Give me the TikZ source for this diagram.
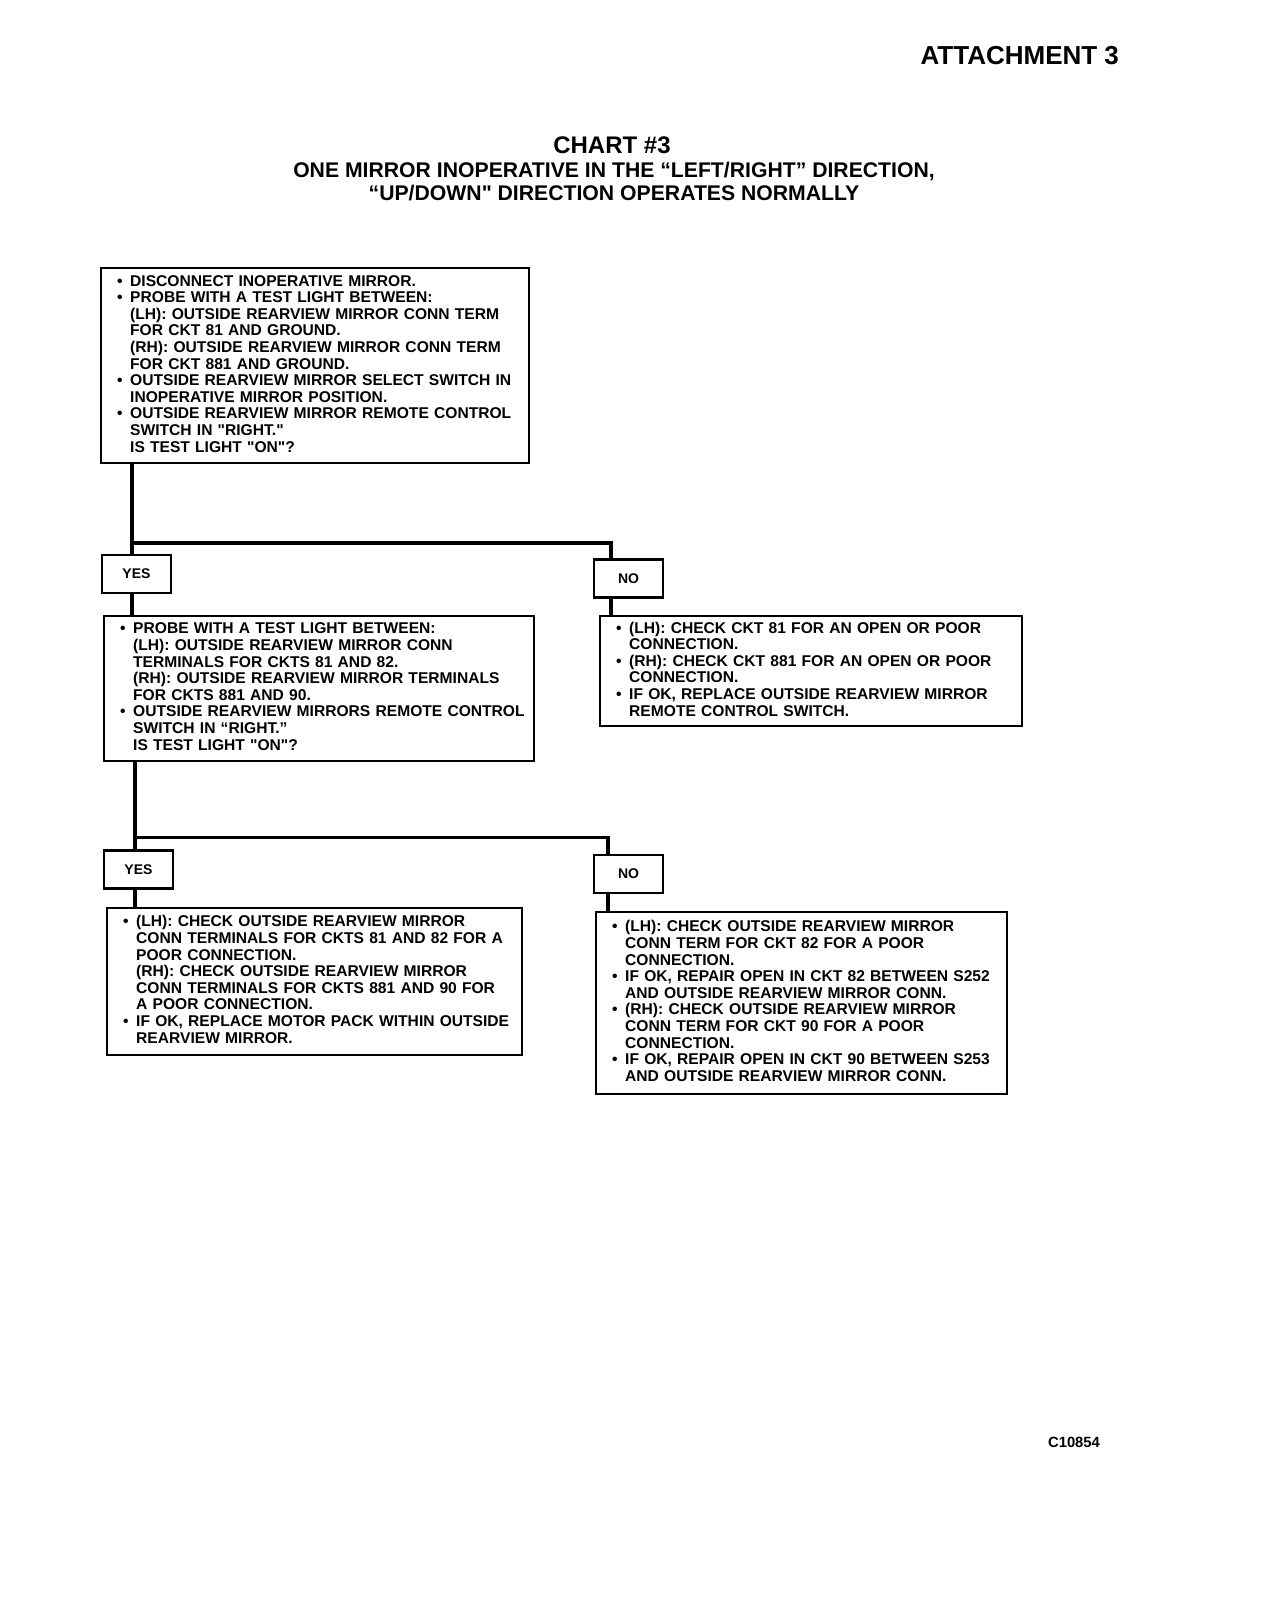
\documentclass[tikz,border=0pt]{standalone}
\usepackage{fontspec}
\setmainfont{Liberation Sans}[Ligatures=TeXOff]
\usetikzlibrary{calc}

\newcommand{\bul}{\makebox[6.5pt][l]{\textbullet}}
\newcommand{\ind}{\hspace*{6.5pt}}
\newcommand{\boxlines}[1]{\begin{tabular}{@{}l@{}}#1\end{tabular}}

\begin{document}
\begin{tikzpicture}[x=0.5pt, y=-0.5pt,
  box/.style={draw, line width=1.2pt, anchor=north west, inner xsep=8pt, inner ysep=0pt, align=left, font=\fontsize{7.8}{8.3}\selectfont\bfseries},
  tag/.style={draw, line width=1.2pt, minimum width=34.5pt, minimum height=19pt, inner sep=0pt, font=\fontsize{7}{8}\selectfont\bfseries},
  link/.style={line width=1.8pt}]
  \useasboundingbox (0,0) rectangle (1264,1600);

  % Heading
  \node[font=\fontsize{13}{15}\selectfont\bfseries, anchor=east] (att) at (1126,56) {ATTACHMENT 3};
  \node[font=\fontsize{12}{14}\selectfont\bfseries] (chart) at (612,145) {CHART \#3};
  \node[font=\fontsize{10.6}{11.5}\selectfont\bfseries, align=center] (sub) at (614,182) {ONE MIRROR INOPERATIVE IN THE “LEFT/RIGHT” DIRECTION,\\“UP/DOWN" DIRECTION OPERATES NORMALLY};

  % First test
  \node[box, text width=198pt, minimum height=97.5pt] (q1) at (100,267) {\boxlines{\bul DISCONNECT INOPERATIVE MIRROR.\\
    \bul PROBE WITH A TEST LIGHT BETWEEN:\\
    \ind (LH): OUTSIDE REARVIEW MIRROR CONN TERM\\
    \ind FOR CKT 81 AND GROUND.\\
    \ind (RH): OUTSIDE REARVIEW MIRROR CONN TERM\\
    \ind FOR CKT 881 AND GROUND.\\
    \bul OUTSIDE REARVIEW MIRROR SELECT SWITCH IN\\
    \ind INOPERATIVE MIRROR POSITION.\\
    \bul OUTSIDE REARVIEW MIRROR REMOTE CONTROL\\
    \ind SWITCH IN "RIGHT."\\
    \ind IS TEST LIGHT "ON"?}};

  \node[tag] (yes1) at (136.5,574) {YES};
  \node[tag] (no1) at (628.5,578.5) {NO};

  % Second test
  \node[box, text width=199pt, minimum height=72.5pt] (q2) at (103,615) {\boxlines{\bul PROBE WITH A TEST LIGHT BETWEEN:\\
    \ind (LH): OUTSIDE REARVIEW MIRROR CONN\\
    \ind TERMINALS FOR CKTS 81 AND 82.\\
    \ind (RH): OUTSIDE REARVIEW MIRROR TERMINALS\\
    \ind FOR CKTS 881 AND 90.\\
    \bul OUTSIDE REARVIEW MIRRORS REMOTE CONTROL\\
    \ind SWITCH IN “RIGHT.”\\
    \ind IS TEST LIGHT "ON"?}};

  \node[box, text width=195pt, minimum height=55pt] (r1) at (599,615) {\boxlines{\bul (LH): CHECK CKT 81 FOR AN OPEN OR POOR\\
    \ind CONNECTION.\\
    \bul (RH): CHECK CKT 881 FOR AN OPEN OR POOR\\
    \ind CONNECTION.\\
    \bul IF OK, REPLACE OUTSIDE REARVIEW MIRROR\\
    \ind REMOTE CONTROL SWITCH.}};

  \node[tag] (yes2) at (138.5,869.5) {YES};
  \node[tag] (no2) at (628.5,874) {NO};

  % Results
  \node[box, text width=191.5pt, minimum height=73.5pt] (r2) at (106,907) {\boxlines{\bul (LH): CHECK OUTSIDE REARVIEW MIRROR\\
    \ind CONN TERMINALS FOR CKTS 81 AND 82 FOR A\\
    \ind POOR CONNECTION.\\
    \ind (RH): CHECK OUTSIDE REARVIEW MIRROR\\
    \ind CONN TERMINALS FOR CKTS 881 AND 90 FOR\\
    \ind A POOR CONNECTION.\\
    \bul IF OK, REPLACE MOTOR PACK WITHIN OUTSIDE\\
    \ind REARVIEW MIRROR.}};

  \node[box, text width=189.5pt, minimum height=91pt] (r3) at (595,911) {\boxlines{\bul (LH): CHECK OUTSIDE REARVIEW MIRROR\\
    \ind CONN TERM FOR CKT 82 FOR A POOR\\
    \ind CONNECTION.\\
    \bul IF OK, REPAIR OPEN IN CKT 82 BETWEEN S252\\
    \ind AND OUTSIDE REARVIEW MIRROR CONN.\\
    \bul (RH): CHECK OUTSIDE REARVIEW MIRROR\\
    \ind CONN TERM FOR CKT 90 FOR A POOR\\
    \ind CONNECTION.\\
    \bul IF OK, REPAIR OPEN IN CKT 90 BETWEEN S253\\
    \ind AND OUTSIDE REARVIEW MIRROR CONN.}};

  \node[font=\fontsize{7.4}{9}\selectfont\bfseries] (code) at (1074,1442) {C10854};

  % Connectors
  \coordinate (t1) at ($(yes1.north west)+(31,0)$);
  \coordinate (j1) at ($(t1)+(0,-11)$);
  \coordinate (n1) at ($(no1.north west)+(18,0)$);
  \draw[link] (q1.south -| t1) -- (t1);
  \draw[link] (j1) -| (n1);
  \draw[link] (t1 |- yes1.south) -- (t1 |- q2.north);
  \draw[link] (n1 |- no1.south) -- (n1 |- r1.north);

  \coordinate (t2) at ($(yes2.north west)+(32,0)$);
  \coordinate (j2) at ($(t2)+(0,-12)$);
  \coordinate (n2) at ($(no2.north west)+(15,0)$);
  \draw[link] (q2.south -| t2) -- (t2);
  \draw[link] (j2) -| (n2);
  \draw[link] (t2 |- yes2.south) -- (t2 |- r2.north);
  \draw[link] (n2 |- no2.south) -- (n2 |- r3.north);
\end{tikzpicture}
\end{document}
